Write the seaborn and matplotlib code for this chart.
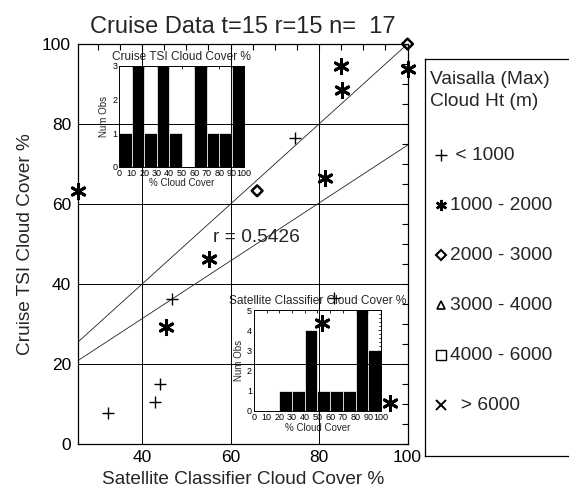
import numpy as np
import pandas as pd
import seaborn as sns
import matplotlib.pyplot as plt
from matplotlib.ticker import MultipleLocator

# cloud cover (%), one pair of lists per Vaisalla height class
sat_lt1000 = [32.2, 42.9, 44.1, 46.8, 74.6, 83.4]
tsi_lt1000 = [7.7, 10.4, 14.9, 36.2, 76.4, 36.6]
sat_1000_2000 = [25.5, 55.2, 45.4, 81.3, 84.9, 85.1, 100.0, 80.6, 96.0]
tsi_1000_2000 = [63.3, 46.2, 29.2, 66.6, 94.6, 88.5, 93.7, 30.2, 10.3]
sat_2000_3000 = [100.0, 66.0]
tsi_2000_3000 = [100.0, 63.3]

height_classes = ['< 1000', '1000 - 2000', '2000 - 3000', '3000 - 4000', '4000 - 6000', '> 6000']
legend_labels = [' < 1000', '1000 - 2000', '2000 - 3000', '3000 - 4000', '4000 - 6000', '  > 6000']
r_text = 'r = 0.5426'
title = 'Cruise Data t=15 r=15 n=  17'
bins = np.arange(0, 101, 10)

df = pd.concat([
    pd.DataFrame({'sat': sat_lt1000, 'tsi': tsi_lt1000, 'ht': height_classes[0]}),
    pd.DataFrame({'sat': sat_1000_2000, 'tsi': tsi_1000_2000, 'ht': height_classes[1]}),
    pd.DataFrame({'sat': sat_2000_3000, 'tsi': tsi_2000_3000, 'ht': height_classes[2]}),
], ignore_index=True)

sns.set_theme(style='white')
plt.rcParams['font.family'] = ['Liberation Sans', 'DejaVu Sans']
plt.rcParams['axes.edgecolor'] = 'black'

W, H = 569, 491
fig = plt.figure(figsize=(W / 100, H / 100), dpi=100)
fig.patch.set_facecolor('white')

def px_axes(left, top, right, bottom, **kw):
    return fig.add_axes([left / W, 1 - bottom / H, (right - left) / W, (bottom - top) / H], **kw)

ax = px_axes(78, 44, 407.5, 444)
ax.set_zorder(3)
ax.patch.set_alpha(0)

xmin = df['sat'].min()
ax.set_xlim(xmin, 100)
ax.set_ylim(0, 100)

# 1:1 line and least squares fit
ax.axline((0, 0), slope=1, color='#222222', lw=0.6, zorder=2)
sns.regplot(data=df, x='sat', y='tsi', scatter=False, ci=None, truncate=False, ax=ax,
            line_kws=dict(color='#222222', lw=0.6, zorder=2))
ax.set_xlim(xmin, 100)
ax.set_ylim(0, 100)

marker_kws = {
    height_classes[0]: dict(marker='+', s=65, color='black', linewidth=1.0),
    height_classes[1]: dict(marker=(6, 2, 0), s=105, color='black', linewidth=2.1),
    height_classes[2]: dict(marker='D', s=30, facecolor='none', edgecolor='black', linewidth=1.8),
}
for cls, sub in df.groupby('ht'):
    sns.scatterplot(data=sub, x='sat', y='tsi', ax=ax, clip_on=False, zorder=5,
                    legend=False, **marker_kws[cls])

ax.xaxis.set_major_locator(MultipleLocator(20))
ax.yaxis.set_major_locator(MultipleLocator(20))
ax.xaxis.set_minor_locator(MultipleLocator(5))
ax.yaxis.set_minor_locator(MultipleLocator(5))
ax.grid(True, which='major', color='black', lw=0.7)
ax.tick_params(which='both', direction='in', top=True, right=True, length=4, width=0.8,
               colors='black', labelsize=12.5)
ax.tick_params(axis='x', pad=4)
ax.tick_params(axis='y', pad=5)
for sp in ax.spines.values():
    sp.set_color('black')
    sp.set_linewidth(0.9)
ax.set_xlabel('Satellite Classifier Cloud Cover %', fontsize=13.7, labelpad=5)
ax.set_ylabel('Cruise TSI Cloud Cover %', fontsize=13.7, labelpad=6)
ax.set_title(title, fontsize=17, pad=8)
ax.text(56.0, 51.5, r_text, fontsize=13.8, va='center', ha='left')

# histogram insets
def inset(a, values, ymax, name):
    sns.histplot(x=values, bins=bins, color='black', edgecolor='white', linewidth=0.5,
                 alpha=1, ax=a)
    a.set_xlim(0, 100)
    a.set_ylim(0, ymax)
    a.patch.set_alpha(0)
    a.set_xticks(bins)
    a.set_yticks(range(ymax + 1))
    a.yaxis.set_minor_locator(MultipleLocator(0.2))
    a.tick_params(which='both', direction='in', top=True, right=True, colors='black',
                  labelsize=6.5, pad=1.5, length=2.5, width=0.6)
    a.tick_params(which='minor', length=1.5)
    for sp in a.spines.values():
        sp.set_color('black')
        sp.set_linewidth(0.7)
    a.set_xlabel('% Cloud Cover', fontsize=7, labelpad=0.5)
    a.set_ylabel('Num Obs', fontsize=7, labelpad=2)
    a.set_title(name, fontsize=8.6, pad=4)

ax1 = px_axes(119.3, 65.7, 244.3, 166.7)
ax1.set_zorder(1)
inset(ax1, df['tsi'], 3, 'Cruise TSI Cloud Cover %')

ax2 = px_axes(254, 310, 381, 411)
ax2.set_zorder(1)
inset(ax2, df['sat'], 5, 'Satellite Classifier Cloud Cover %')

# legend panel
axl = px_axes(425, 59, 575, 456)
axl.set_xlim(425, 575)
axl.set_ylim(456, 59)
axl.set_xticks([])
axl.set_yticks([])
for sp in axl.spines.values():
    sp.set_color('black')
    sp.set_linewidth(0.9)
axl.text(430, 79, 'Vaisalla (Max)', fontsize=13.8, va='center')
axl.text(430, 102, 'Cloud Ht (m)', fontsize=13.8, va='center')
leg_markers = [
    dict(marker='+', ms=8, mew=1.0, color='black'),
    dict(marker=(6, 2, 0), ms=8, mew=1.8, color='black'),
    dict(marker='D', ms=5, mew=1.5, mfc='none', mec='black'),
    dict(marker='^', ms=6, mew=1.2, mfc='none', mec='black'),
    dict(marker='s', ms=7, mew=1.0, mfc='none', mec='black'),
    dict(marker='x', ms=7, mew=1.4, color='black'),
]
for i, (lab, mk) in enumerate(zip(legend_labels, leg_markers)):
    yy = 155 + 50 * i
    axl.plot([440.5], [yy], ls='none', **mk)
    axl.text(450, yy, lab, fontsize=13.8, va='center')

fig.savefig('out.png', dpi=100)
